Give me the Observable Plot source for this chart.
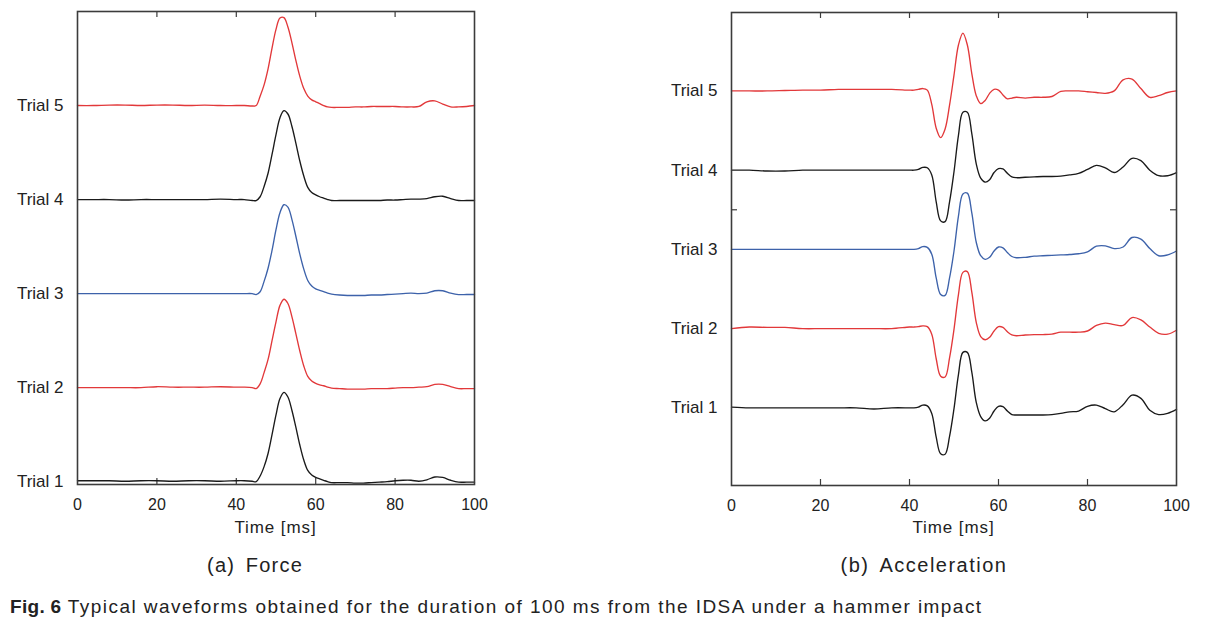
<!DOCTYPE html>
<html>
<head>
<meta charset="utf-8">
<script src="https://cdn.jsdelivr.net/npm/d3@7"></script>
<script src="https://cdn.jsdelivr.net/npm/@observablehq/plot@0.6"></script>
<style>
  html, body { margin: 0; padding: 0; background: #fff; }
  #page { position: relative; width: 1209px; height: 635px; overflow: hidden; font-family: "Liberation Sans", Arial, sans-serif; color: #222; }
  .panel { position: absolute; top: 0; }
  .lbl { position: absolute; white-space: nowrap; color: #222; }
</style>
</head>
<body>
<div id="page">
  <div id="left" class="panel" style="left:0px"></div>
  <div id="right" class="panel" style="left:640px"></div>
  <div class="lbl" id="xl1" style="left:0; width:551px; text-align:center; top:518px; font-size:17px; letter-spacing:0.9px;">Time [ms]</div>
  <div class="lbl" id="xl2" style="left:731px; width:445px; text-align:center; top:518px; font-size:17px; letter-spacing:0.9px;">Time [ms]</div>
  <div class="lbl" id="t1" style="left:105px; width:300px; text-align:center; top:554px; font-size:20px; letter-spacing:1.2px; word-spacing:4px;">(a) Force</div>
  <div class="lbl" id="t2" style="left:774px; width:300px; text-align:center; top:554px; font-size:20px; letter-spacing:1.5px; word-spacing:4px;">(b) Acceleration</div>
  <div class="lbl" id="cap" style="left:10px; top:596px; font-size:19px; letter-spacing:1.45px;"><b style="letter-spacing:0.3px">Fig. 6</b> Typical waveforms obtained for the duration of 100 ms from the IDSA under a hammer impact</div>
</div>
<script>
// ---------- data ----------
const trialLabels = ["Trial 1", "Trial 2", "Trial 3", "Trial 4", "Trial 5"];
const trialColors = ["#1a1a1a", "#e2383a", "#3d62aa", "#1a1a1a", "#e2383a"];
const xTickValues = [0, 20, 40, 60, 80, 100];
const xInnerTicks = [20, 40, 60, 80];

// Force panel (normalized amplitude, each trial offset by one unit)
const forceTime = [0,4,8,12,16,20,24,28,32,36,40,42,44,
  45,46,47,48,49,50,51,52,53,54,55,56,57,58,59,60,61,62,63,64,
  66,68,70,72,74,76,78,80,82,84,86,88,90,92,94,96,98,100];

const force1 = [0.01,0.01,0.01,0.005,0.01,0.01,0.005,0.01,0.01,0.005,0.01,0.01,0.005,
  0.0,0.06,0.16,0.30,0.50,0.71,0.885,0.95,0.90,0.76,0.58,0.39,0.23,0.12,0.07,0.045,0.03,0.015,0.0,-0.01,
  -0.01,-0.01,-0.015,-0.015,-0.01,-0.005,0.0,0.01,0.015,0.015,0.005,0.02,0.05,0.045,0.015,-0.005,-0.005,-0.005];
const force2 = [0,0,0,0,0,0.01,0.005,0.005,0.005,0.01,0.005,0.005,0.0,
  -0.01,0.04,0.16,0.30,0.50,0.70,0.875,0.94,0.895,0.755,0.575,0.39,0.23,0.12,0.07,0.045,0.03,0.02,0.005,-0.005,
  -0.01,-0.015,-0.015,-0.015,-0.01,-0.01,-0.01,-0.005,0.0,0.0,0.005,0.01,0.035,0.035,0.01,-0.01,-0.01,-0.01];
const force3 = [0,0,0,0,0,0,0,0,0,0,0,0,0,
  -0.01,0.02,0.13,0.27,0.46,0.68,0.86,0.945,0.92,0.79,0.61,0.42,0.26,0.14,0.08,0.05,0.035,0.02,0.005,-0.005,
  -0.015,-0.02,-0.02,-0.02,-0.015,-0.015,-0.01,-0.005,0.0,0.005,0.0,0.005,0.03,0.03,0.005,-0.01,-0.01,-0.01];
const force4 = [0,0,0,-0.005,0,0,0,0,0,0.005,0,0,-0.01,
  -0.01,0.03,0.14,0.28,0.48,0.69,0.87,0.945,0.91,0.78,0.60,0.41,0.25,0.13,0.075,0.05,0.03,0.015,0.0,-0.01,
  -0.01,-0.01,-0.01,-0.01,-0.01,-0.01,-0.005,-0.005,0.0,0.005,0.005,0.01,0.03,0.035,0.01,-0.01,-0.01,-0.01];
const force5 = [0,0,0.005,0.005,0,0.005,0.005,0,0.005,0,0,0,-0.005,
  0.0,0.10,0.22,0.39,0.61,0.81,0.93,0.935,0.835,0.67,0.48,0.31,0.18,0.10,0.06,0.04,0.02,0.0,-0.015,-0.02,
  -0.02,-0.02,-0.015,-0.015,-0.01,-0.01,-0.01,-0.01,-0.015,-0.015,-0.01,0.04,0.05,0.015,-0.015,-0.015,-0.01,0.0];

// Acceleration panel (normalized amplitude, each trial offset by one unit)
const accelTime = [0,4,8,12,16,20,24,28,32,36,40,
  41,42,43,44,45,46,47,48,49,50,51,52,53,54,55,56,57,58,59,60,61,62,63,64,
  66,68,70,72,74,76,78,80,82,84,86,88,90,92,94,96,98,100];

const accel1 = [0.01,0,0,0,0,0,0,0,-0.015,0,0,
  0.0,0.01,0.035,0.025,-0.07,-0.37,-0.58,-0.585,-0.36,-0.01,0.42,0.70,0.70,0.45,0.07,-0.11,-0.165,-0.13,-0.04,0.02,0.015,-0.04,-0.085,-0.09,
  -0.09,-0.09,-0.09,-0.085,-0.07,-0.05,-0.04,0.02,0.035,-0.01,-0.05,0.04,0.16,0.12,-0.03,-0.085,-0.07,-0.02];
const accel2 = [0,0.02,0.015,0.015,0,0,0,0,0,0,0.02,
  0.02,0.025,0.035,0.025,-0.07,-0.38,-0.60,-0.61,-0.37,-0.01,0.43,0.71,0.72,0.46,0.08,-0.10,-0.14,-0.11,-0.03,0.025,0.015,-0.04,-0.08,-0.09,
  -0.08,-0.075,-0.075,-0.07,-0.045,-0.045,-0.045,-0.03,0.04,0.07,0.05,0.04,0.14,0.11,0.02,-0.06,-0.07,-0.02];
const accel3 = [0,0,0,0,0,0,0,0,0,0,0,
  0.0,0.01,0.035,0.025,-0.06,-0.36,-0.57,-0.58,-0.36,-0.02,0.42,0.70,0.71,0.46,0.09,-0.08,-0.125,-0.10,-0.02,0.03,0.02,-0.04,-0.09,-0.105,
  -0.10,-0.085,-0.08,-0.075,-0.07,-0.065,-0.055,-0.03,0.04,0.045,0.01,0.03,0.15,0.13,0.01,-0.08,-0.07,-0.02];
const accel4 = [0,0,-0.01,-0.01,0,0,0,0,0,0,0,
  0.0,0.01,0.035,0.03,-0.06,-0.40,-0.64,-0.65,-0.40,-0.02,0.44,0.73,0.73,0.46,0.08,-0.10,-0.15,-0.12,-0.03,0.02,0.015,-0.04,-0.085,-0.095,
  -0.09,-0.085,-0.08,-0.08,-0.075,-0.06,-0.04,0.01,0.06,0.03,-0.03,0.04,0.15,0.12,0.0,-0.07,-0.07,-0.03];
const accel5 = [0,0,0,0.005,0.01,0.01,0.02,0.02,0.02,0.02,0.01,
  0.01,0.02,0.03,0.01,-0.17,-0.47,-0.59,-0.48,-0.18,0.20,0.58,0.73,0.58,0.22,-0.06,-0.16,-0.12,-0.03,0.02,0.01,-0.05,-0.10,-0.09,-0.08,
  -0.09,-0.08,-0.08,-0.07,-0.005,0.0,0.0,-0.01,-0.02,-0.03,0.0,0.14,0.15,0.03,-0.08,-0.06,-0.02,0.0];

const forceSeries = [force1, force2, force3, force4, force5];
const accelSeries = [accel1, accel2, accel3, accel4, accel5];

// ---------- drawing ----------
function rowsFor(time, series) {
  const rows = [];
  series.forEach((vals, k) => vals.forEach((v, i) => rows.push({t: time[i], y: v + k, trial: trialLabels[k]})));
  return rows;
}

const frameColor = "#3c3c3c";

function panel({time, series, yDomain, width, height, mL, mR, mT, mB, yInner}) {
  const rows = rowsFor(time, series);
  const plotH = height - mT - mB;
  const plotW = width - mL - mR;
  const unitY = (yDomain[1] - yDomain[0]) / plotH; // data per px
  const unitX = 100 / plotW;
  const tl = 6;
  const marks = [
    Plot.ruleX(xInnerTicks, {y1: yDomain[0], y2: yDomain[0] + tl * unitY, stroke: frameColor, strokeWidth: 1.2}),
    Plot.ruleX(xInnerTicks, {y1: yDomain[1], y2: yDomain[1] - tl * unitY, stroke: frameColor, strokeWidth: 1.2}),
    Plot.line(rows, {x: "t", y: "y", z: "trial", stroke: "trial", curve: "catmull-rom", strokeWidth: 1.35}),
    Plot.frame({stroke: frameColor, strokeWidth: 1.6}),
    Plot.axisY([0, 1, 2, 3, 4], {tickSize: 0, tickPadding: 14, fontSize: 17, tickFormat: (d) => trialLabels[d]}),
    Plot.axisX(xTickValues, {tickSize: 0, tickPadding: 14, fontSize: 16, tickFormat: (d) => String(d)})
  ];
  if (yInner) {
    marks.push(Plot.ruleY(yInner, {x1: 0, x2: tl * unitX, stroke: frameColor, strokeWidth: 1.2}));
    marks.push(Plot.ruleY(yInner, {x1: 100, x2: 100 - tl * unitX, stroke: frameColor, strokeWidth: 1.2}));
  }
  return Plot.plot({
    width, height,
    marginLeft: mL, marginRight: mR, marginTop: mT, marginBottom: mB,
    style: {fontFamily: "Liberation Sans, Arial, sans-serif", color: "#222", background: "transparent", overflow: "visible"},
    x: {domain: [0, 100], label: null},
    y: {domain: yDomain, label: null},
    color: {domain: trialLabels, range: trialColors},
    marks
  });
}

document.getElementById("left").appendChild(panel({
  time: forceTime, series: forceSeries, yDomain: [-0.03, 5.0],
  width: 500, height: 540, mL: 77, mR: 26, mT: 11, mB: 56
}));
document.getElementById("right").appendChild(panel({
  time: accelTime, series: accelSeries, yDomain: [-0.98, 4.99],
  width: 569, height: 540, mL: 91, mR: 33, mT: 12, mB: 55, yInner: [2.5]
}));
</script>
</body>
</html>
